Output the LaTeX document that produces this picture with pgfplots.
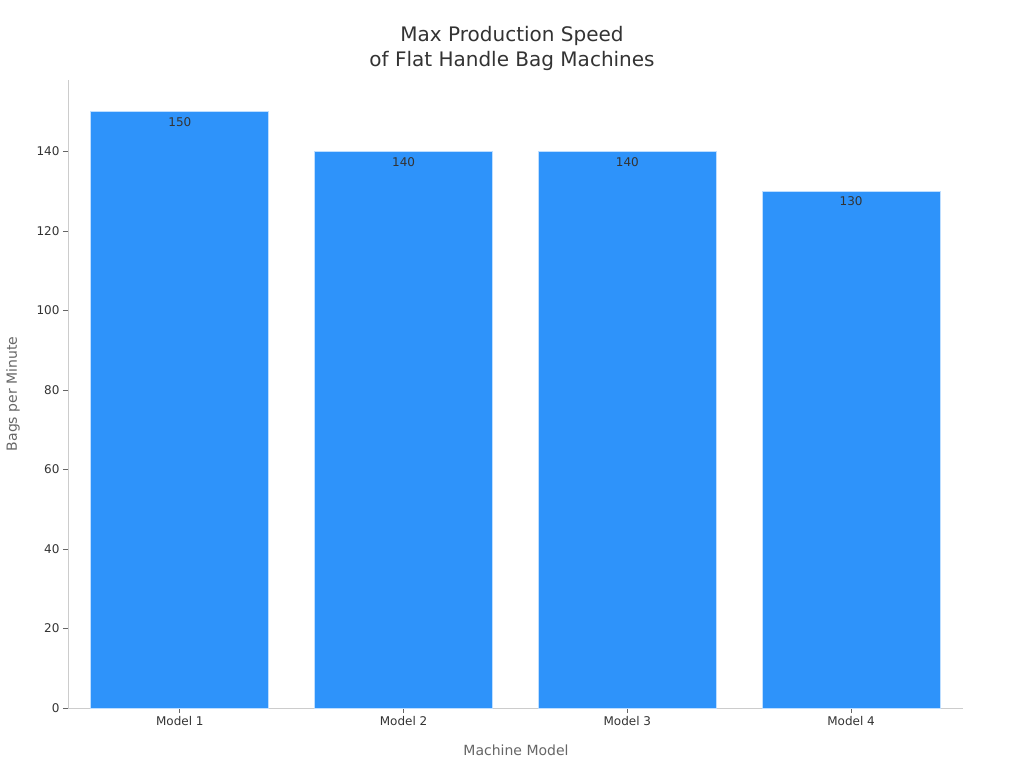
\documentclass[border=0pt]{standalone}
\usepackage{pgfplots}
\pgfplotsset{compat=1.18}
\usepackage{fontspec}
\setmainfont{DejaVu Sans}
\definecolor{barblue}{HTML}{2E93FA}
\definecolor{axgray}{HTML}{CCCCCC}
\definecolor{txt}{HTML}{333333}
\definecolor{lbl}{HTML}{666666}
\begin{document}
\begin{tikzpicture}[x=1pt,y=1pt]
\useasboundingbox (-68,-60) rectangle (956,708);
\begin{axis}[
  at={(0,0)}, anchor=south west,
  scale only axis, width=895pt, height=628pt,
  xmin=-0.5, xmax=3.5, ymin=0, ymax=158,
  axis x line*=bottom, axis y line*=left,
  axis line style={axgray, line width=0.8pt},
  xtick=data, xticklabels={Model 1,Model 2,Model 3,Model 4},
  ytick={0,20,...,140},
  tick align=outside, major tick length=5pt,
  tick style={lbl, line width=0.8pt},
  ticklabel style={font=\fontsize{12}{14}\selectfont, text=txt},
  /pgf/number format/assume math mode=true,
  ybar, bar width=178pt,
  nodes near coords,
  nodes near coords style={anchor=north, yshift=-2pt, font=\fontsize{12}{14}\selectfont, text=txt},
]
\addplot[fill=barblue, draw={rgb,255:red,190;green,222;blue,255}, line width=0.8pt] coordinates {
  (0,150) (1,140) (2,140) (3,130)};
\end{axis}
\node[align=center, text=txt, font=\fontsize{20}{25}\selectfont] at (444,660) {Max Production Speed\\of Flat Handle Bag Machines};
\node[text=lbl, font=\fontsize{14}{16}\selectfont, rotate=90] at (-55,314) {Bags per Minute};
\node[text=lbl, font=\fontsize{14}{16}\selectfont] at (448,-42) {Machine Model};
\end{tikzpicture}
\end{document}
